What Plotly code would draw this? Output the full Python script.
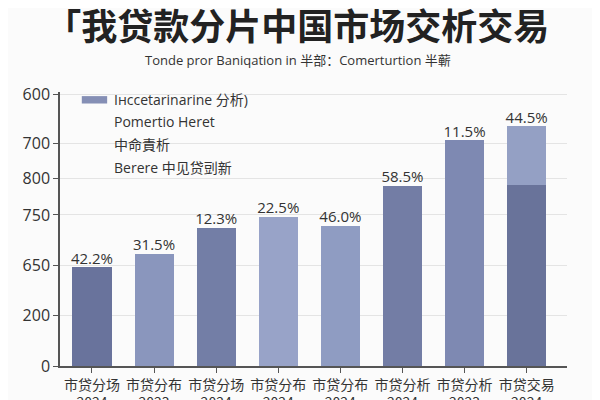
import plotly.graph_objects as go

# categories / values (axis units: the y axis labels in the picture are not monotonic,
# so values are kept on a linear scale and the tick texts are placed on it)
categories = ["市贷分场<br>2024", "市贷分布<br>2023", "市贷分场<br>2024", "市贷分布<br>2024",
              "市贷分布<br>2024", "市贷分析<br>2024", "市贷分析<br>2023", "市贷交易<br>2024"]
base_values = [98, 111, 137, 148, 139, 179, 224, 180]
top_values = [0, 0, 0, 0, 0, 0, 0, 58]
pct_labels = ["42.2%", "31.5%", "12.3%", "22.5%", "46.0%", "58.5%", "11.5%", "44.5%"]
bar_colors = ["#69739c", "#8a96bd", "#737ea6", "#98a3c8", "#8f9cc2", "#737da5", "#7e89b2", "#69739a"]
top_color = "#94a0c4"

ytick_vals = [0, 50, 100, 150, 186, 221, 270]
ytick_text = ["0", "200", "650", "750", "800", "700", "600"]

legend_lines = ["Iнccetarinarine 分析)", "Pomertio Heret", "中命責析", "Berere 中见贷剅新"]

font_family = "Open Sans, Noto Sans CJK SC, sans-serif"
cjk_family = "Noto Sans CJK SC, sans-serif"
text_color = "#333333"

x = list(range(len(categories)))
totals = [b + t for b, t in zip(base_values, top_values)]

fig = go.Figure()

fig.add_trace(go.Bar(
    x=x, y=base_values,
    marker=dict(color=bar_colors, line=dict(width=0)),
    showlegend=False,
))

fig.add_trace(go.Bar(
    x=x, y=top_values,
    marker=dict(color=top_color, line=dict(width=0)),
    showlegend=False,
))

# percent labels above bars
fig.add_trace(go.Scatter(
    x=x, y=totals,
    mode="text",
    text=pct_labels,
    textposition="top center",
    textfont=dict(size=15, color=text_color, family=font_family),
    showlegend=False,
    hoverinfo="skip",
))

# legend block drawn by hand (one swatch, four text lines)
legend_y = [0.971, 0.891, 0.807, 0.723]
for line, ly in zip(legend_lines, legend_y):
    fig.add_annotation(
        x=0.1026, y=ly, xref="paper", yref="paper",
        xanchor="left", yanchor="middle",
        text=line, showarrow=False,
        font=dict(size=14, color=text_color, family=font_family),
    )
fig.add_shape(
    type="rect", xref="paper", yref="paper",
    x0=0.043, x1=0.093, y0=0.958, y1=0.985,
    fillcolor="#858fb5", line=dict(width=0),
)

# subtitle
fig.add_annotation(
    x=0.469, y=1.117, xref="paper", yref="paper",
    xanchor="center", yanchor="middle",
    text="Tonde pror Baniqation in 半部：Comerturtion 半蕲",
    showarrow=False,
    font=dict(size=13, color=text_color, family=font_family),
)

# the page has an 8px body margin, margins below take that into account
fig.update_layout(
    width=600, height=400,
    margin=dict(l=52, r=41, t=84, b=42),
    paper_bgcolor="#fbfbfb",
    plot_bgcolor="#fbfbfb",
    barmode="stack",
    bargap=0.37,
    title=dict(
        text="<b>「我贷款分片中国市场交析交易</b>",
        x=0.482, xanchor="center", xref="container",
        y=0.9525, yanchor="middle", yref="container",
        font=dict(size=36, color="#222222", family=cjk_family),
    ),
    font=dict(family=font_family, color=text_color),
    showlegend=False,
)

fig.update_xaxes(
    tickvals=x, ticktext=categories,
    range=[-0.515, 7.65],
    showline=True, linecolor="#555555", linewidth=1.5,
    ticks="outside", ticklen=5, tickcolor="#555555",
    tickfont=dict(size=14, color=text_color, family=cjk_family),
    showgrid=False,
    automargin=False,
)
fig.update_yaxes(
    range=[0, 272],
    tickvals=ytick_vals, ticktext=ytick_text,
    showline=True, linecolor="#555555", linewidth=1.5,
    ticks="outside", ticklen=5, tickcolor="#555555",
    tickfont=dict(size=16, color=text_color, family=font_family),
    showgrid=True, gridcolor="#e4e4e4", gridwidth=1,
    zeroline=False,
    automargin=False,
)

fig.write_html("out.html")
